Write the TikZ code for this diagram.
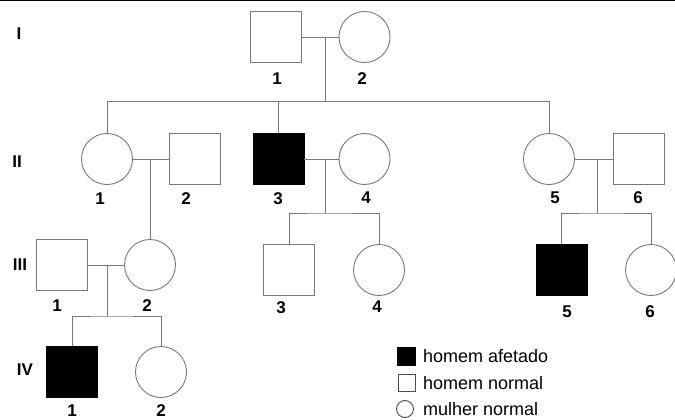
\documentclass[tikz,border=0pt]{standalone}
\usepackage{fontspec}
\setmainfont{Liberation Sans}
\definecolor{linegray}{RGB}{120,120,120}
\begin{document}
\begin{tikzpicture}[
        x=1pt, y=-1pt,
        male/.style={rectangle, draw=linegray, line width=0.9pt, minimum size=51pt, inner sep=0pt},
        female/.style={circle, draw=linegray, line width=0.9pt, minimum size=51pt, inner sep=0pt},
        affected/.style={male, draw=black, fill=black},
        num/.style={font=\fontsize{17}{17}\selectfont\bfseries, inner sep=0pt},
        link/.style={draw=linegray, line width=0.9pt},
        legtext/.style={font=\fontsize{18}{18}\selectfont, anchor=west, inner sep=0pt},
        ]
        \useasboundingbox (0,0) rectangle (675,420);

        % Top rule
        \draw[line width=1.5pt] (0,0.75) -- (675,0.75);

        % Generations
        \node[num] (g1) at (19,34) {I};
        \node[num] (g2) at (17,162) {II};
        \node[num] (g3) at (20,265) {III};
        \node[num] (g4) at (25,370) {IV};

        % Generation I
        \node[male] (i1) at (276,37) {};
        \node[female] (i2) at (364.5,37) {};

        % Generation II
        \node[female] (ii1) at (107,159) {};
        \node[male] (ii2) at (194.5,159) {};
        \node[affected] (ii3) at (278.5,159) {};
        \node[female] (ii4) at (364.5,159) {};
        \node[female] (ii5) at (549,159) {};
        \node[male] (ii6) at (639,159) {};

        % Generation III
        \node[male] (iii1) at (61.5,265) {};
        \node[female] (iii2) at (150,265) {};
        \node[male] (iii3) at (289,270) {};
        \node[female] (iii4) at (379,270) {};
        \node[affected] (iii5) at (561.5,270) {};
        \node[female] (iii6) at (651,270) {};

        % Generation IV
        \node[affected] (iv1) at (72,372) {};
        \node[female] (iv2) at (161,372) {};

        % Numbers
        \node[num] (n11) at (277,79) {1};
        \node[num] (n12) at (362,79) {2};
        \node[num] (n21) at (100,199) {1};
        \node[num] (n22) at (186,199) {2};
        \node[num] (n23) at (278,199) {3};
        \node[num] (n24) at (366,198) {4};
        \node[num] (n25) at (555,198) {5};
        \node[num] (n26) at (638,198) {6};
        \node[num] (n31) at (57,306) {1};
        \node[num] (n32) at (147,306) {2};
        \node[num] (n33) at (281,308) {3};
        \node[num] (n34) at (377,307) {4};
        \node[num] (n35) at (567,312) {5};
        \node[num] (n36) at (650,312) {6};
        \node[num] (n41) at (72,411) {1};
        \node[num] (n42) at (161,411) {2};

        % Couples and descent lines
        \coordinate (m1) at (325,37);
        \coordinate (s1) at (325,101.5);
        \draw[link] (i1.east) -- (i2.west);
        \draw[link] (m1) -- (s1);
        \draw[link] (ii1.north) |- (s1) -| (ii5.north);
        \draw[link] (ii3.north) -- (ii3.north |- s1);

        \coordinate (m2) at (150,159);
        \draw[link] (ii1.east) -- (ii2.west);
        \draw[link] (m2) -- (iii2.north);

        \coordinate (m3) at (325,159);
        \coordinate (s3) at (325,213);
        \draw[link] (ii3.east) -- (ii4.west);
        \draw[link] (m3) -- (s3);
        \draw[link] (iii3.north) |- (s3) -| (iii4.north);

        \coordinate (m4) at (597,159);
        \coordinate (s4) at (597,213);
        \draw[link] (ii5.east) -- (ii6.west);
        \draw[link] (m4) -- (s4);
        \draw[link] (iii5.north) |- (s4) -| (iii6.north);

        \coordinate (m5) at (107,265);
        \coordinate (s5) at (107,316);
        \draw[link] (iii1.east) -- (iii2.west);
        \draw[link] (m5) -- (s5);
        \draw[link] (iv1.north) |- (s5) -| (iv2.north);

        % Legend
        \node[affected, minimum size=18pt] (k1) at (406.5,356) {};
        \node[male, draw=black!70, minimum size=17pt] (k2) at (406.5,383) {};
        \node[female, draw=black!70, minimum size=17pt] (k3) at (405,409) {};
        \node[legtext] (t1) at (423,356) {homem afetado};
        \node[legtext] (t2) at (423,383) {homem normal};
        \node[legtext] (t3) at (423,409) {mulher normal};

    \end{tikzpicture}
\end{document}
